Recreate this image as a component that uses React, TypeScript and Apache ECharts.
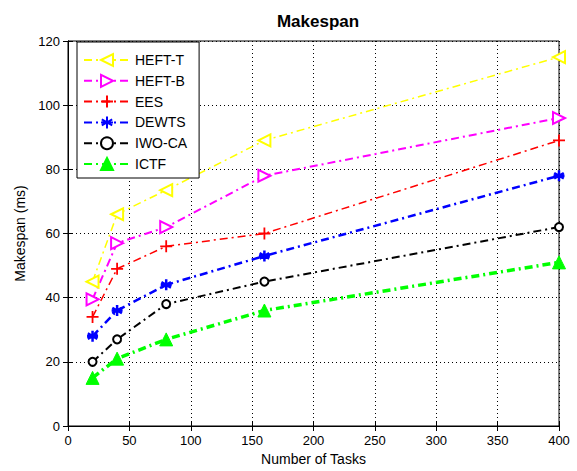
import React, { useEffect, useRef } from "react";
import * as echarts from "echarts";

const xValues = [20, 40, 80, 160, 400];
const heftT = [45, 66, 73.5, 89, 115];
const heftB = [39.5, 57, 62, 78, 96];
const ees = [34, 49, 56, 60, 89];
const dewts = [28, 36, 44, 53, 78];
const iwoca = [20, 27, 38, 45, 62];
const ictf = [15, 21, 27, 36, 51];

const FONT = "Liberation Sans, Arial, sans-serif";

const plusPath = "path://M0,-10V10M-10,0H10";
const starPath = "path://M0,-10V10M-8.7,-5L8.7,5M-8.7,5L8.7,-5M-10,0H10";

function mk(name: string, data: number[], color: string, width: number, symbol: string, size: number, rotate: number, bw: number) {
  return {
    name,
    type: "line",
    data: xValues.map((x, i) => [x, data[i]]),
    symbol,
    symbolSize: size,
    symbolRotate: rotate,
    showAllSymbol: true,
    lineStyle: { color, width, type: [8, 4, 2, 4] },
    itemStyle: { color, borderColor: color, borderWidth: bw },
    emphasis: { disabled: true },
  };
}

export default function App() {
  const ref = useRef<HTMLDivElement>(null);
  useEffect(() => {
    const chart = echarts.init(ref.current!, undefined, { renderer: "svg" });
    const axisCommon = {
      axisLine: { show: true, lineStyle: { color: "#000", width: 1 } },
      axisTick: { show: true, inside: true, length: 5, lineStyle: { color: "#000" } },
      axisLabel: { color: "#000", fontSize: 13, fontFamily: FONT },
    };
    chart.setOption({
      animation: false,
      backgroundColor: "#fff",
      title: {
        text: "Makespan",
        left: 313,
        textAlign: "center",
        top: 8,
        textStyle: { fontSize: 17, fontWeight: "bold", color: "#000", fontFamily: FONT },
      },
      grid: { left: 68, right: 18, top: 41, bottom: 44, show: true, borderColor: "#000", borderWidth: 1 },
      legend: {
        orient: "vertical",
        left: 77,
        top: 42,
        backgroundColor: "#fff",
        borderColor: "#000",
        borderWidth: 1,
        borderRadius: 0,
        padding: [11, 12, 7, 6],
        itemGap: 6.8,
        itemWidth: 46,
        itemHeight: 15,
        textStyle: { fontSize: 14, color: "#000", fontFamily: FONT },
        data: ["HEFT-T", "HEFT-B", "EES", "DEWTS", "IWO-CA", "ICTF"],
      },
      xAxis: [
        {
          type: "value",
          min: 0,
          max: 400,
          interval: 50,
          name: "Number of Tasks",
          nameLocation: "middle",
          nameGap: 26,
          nameTextStyle: { fontSize: 14, color: "#000", fontFamily: FONT },
          splitLine: { show: true, lineStyle: { color: "#000", type: [1, 3], width: 1 } },
          ...axisCommon,
        },
        {
          type: "value",
          position: "top",
          min: 0,
          max: 400,
          interval: 50,
          axisLine: { show: true, lineStyle: { color: "#000" } },
          axisTick: { show: true, inside: true, length: 5, lineStyle: { color: "#000" } },
          axisLabel: { show: false },
          splitLine: { show: false },
        },
      ],
      yAxis: [
        {
          type: "value",
          min: 0,
          max: 120,
          interval: 20,
          name: "Makespan (ms)",
          nameLocation: "middle",
          nameGap: 38,
          nameTextStyle: { fontSize: 14, color: "#000", fontFamily: FONT },
          splitLine: { show: true, lineStyle: { color: "#000", type: [1, 3], width: 1 } },
          ...axisCommon,
        },
        {
          type: "value",
          position: "right",
          min: 0,
          max: 120,
          interval: 20,
          axisLine: { show: true, lineStyle: { color: "#000" } },
          axisTick: { show: true, inside: true, length: 5, lineStyle: { color: "#000" } },
          axisLabel: { show: false },
          splitLine: { show: false },
        },
      ],
      series: [
        mk("HEFT-T", heftT, "#ffff00", 1.5, "emptyTriangle", 12, 90, 1.5),
        mk("HEFT-B", heftB, "#ff00ff", 2, "emptyTriangle", 12, -90, 2),
        mk("EES", ees, "#ff0000", 1.5, plusPath, 12, 0, 1.8),
        mk("DEWTS", dewts, "#0000ff", 2.5, starPath, 11, 0, 2.5),
        mk("IWO-CA", iwoca, "#000000", 2, "emptyCircle", 8, 0, 1.5),
        mk("ICTF", ictf, "#00ff00", 3.5, "triangle", 13, 0, 1),
      ],
    });
    return () => chart.dispose();
  }, []);
  return <div ref={ref} style={{ width: 577, height: 471, position: "absolute", left: 0, top: 0 }} />;
}
